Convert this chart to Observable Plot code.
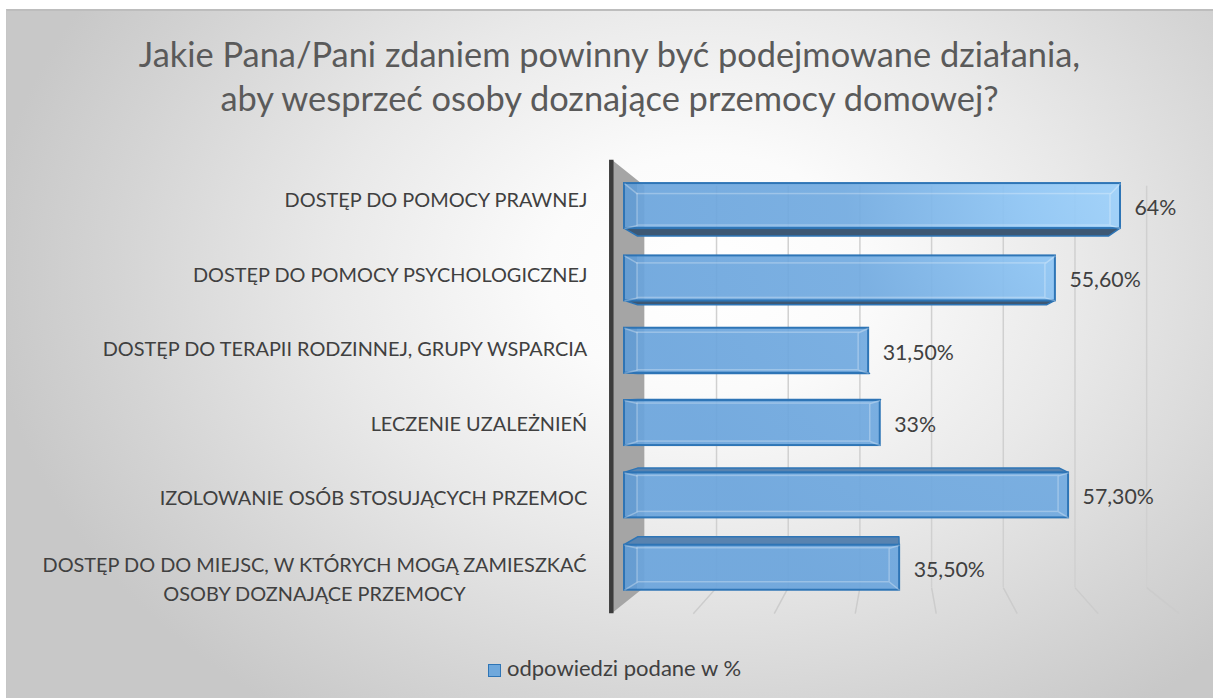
<!DOCTYPE html>
<html>
<head>
<meta charset="utf-8">
<script src="https://cdn.jsdelivr.net/npm/d3@7"></script>
<script src="https://cdn.jsdelivr.net/npm/@observablehq/plot@0.6"></script>
<style>
  html, body { margin: 0; padding: 0; background: #ffffff; width: 1213px; height: 698px; overflow: hidden; }
  #frame {
    position: absolute; left: 6px; top: 9px; width: 1210px; height: 692px;
    border-top: 2px solid #bdbdbd; border-left: 1px solid #c6c6c6;
    background: radial-gradient(ellipse 720px 540px at 700px 262px, #ffffff 0%, #fbfbfb 22%, #e9e9e9 52%, #d4d4d4 82%, #c8c8c8 100%);
  }
  #title {
    position: absolute; left: 6px; top: 32px; width: 1207px; text-align: center;
    font-family: Lato, "Open Sans", sans-serif; font-weight: 400; font-size: 34.4px; line-height: 44px; color: #5a5a5a;
  }
  #chart { position: absolute; left: 0; top: 140px; }
  #legend {
    position: absolute; left: 488px; top: 656px; white-space: nowrap;
    font-family: Lato, "Open Sans", sans-serif; font-weight: 400; font-size: 22px; line-height: 24px; color: #404040;
  }
  #legend .sw {
    display: inline-block; width: 11px; height: 11px; margin-right: 6px; vertical-align: -1px;
    background: #6fa8dc; border: 1.5px solid #2e75b6;
  }
</style>
</head>
<body>
<svg width="0" height="0" style="position:absolute">
  <defs>
    <radialGradient id="barGrad" gradientUnits="userSpaceOnUse" cx="1190" cy="20" r="560">
      <stop offset="0" stop-color="#a9d9ff"/>
      <stop offset="0.3" stop-color="#8fc6f5"/>
      <stop offset="0.62" stop-color="#71aae0"/>
      <stop offset="1" stop-color="#6aa4dc"/>
    </radialGradient>
  </defs>
</svg>
<div id="frame"></div>
<div id="title"></div>
<div id="chart"></div>
<div id="legend"><span class="sw"></span><span id="legendText"></span></div>
<script>
// ---- data ----
const titleLines = [
  "Jakie Pana/Pani zdaniem powinny być podejmowane działania,",
  "aby wesprzeć osoby doznające przemocy domowej?"
];
const categories = [
  "DOSTĘP DO POMOCY PRAWNEJ",
  "DOSTĘP DO POMOCY PSYCHOLOGICZNEJ",
  "DOSTĘP DO TERAPII RODZINNEJ, GRUPY WSPARCIA",
  "LECZENIE UZALEŻNIEŃ",
  "IZOLOWANIE OSÓB STOSUJĄCYCH PRZEMOC",
  "DOSTĘP DO DO MIEJSC, W KTÓRYCH MOGĄ ZAMIESZKAĆ\nOSOBY DOZNAJĄCE PRZEMOCY"
];
const values = [64, 55.6, 31.5, 33, 57.3, 35.5];
const valueLabels = ["64%", "55,60%", "31,50%", "33%", "57,30%", "35,50%"];
const gridTicks = [0, 10, 20, 30, 40, 50, 60, 70];
const legendLabel = "odpowiedzi podane w %";

// ---- page text ----
document.getElementById("title").innerHTML = titleLines.map(s => s.replace(/&/g, "&amp;")).join("<br>");
document.getElementById("legendText").textContent = legendLabel;

// ---- 3D-like perspective helpers (styling) ----
const fontFamily = "Lato, 'Open Sans', sans-serif";
const W = 1213, Hgt = 490;
const mL = 624, mR = 46.5, mT = 29.4, mB = 26.6;
const xMax = gridTicks[gridTicks.length - 1];
const pxPerX = (W - mL - mR) / xMax;
const pxPerRow = (Hgt - mT - mB) / categories.length;
const HALF = 22.5 / pxPerRow;            // half bar thickness in row units
const VP = {x: xMax / 2, y: (categories.length - 1) / 2};
const DEPTH = {front: 1.045, bar: 1, barBack: 0.95, back: 0.925};
const proj = (v, r, f) => [VP.x + (v - VP.x) * f, VP.y + (r - VP.y) * f];
const rowTop = -0.5, rowBot = categories.length - 0.5;

const rows = categories.map((c, i) => ({i, category: c, value: values[i], label: valueLabels[i]}));

// horizontal faces of bars (underside above eye level, top face below)
const faces = rows.flatMap(d => {
  const under = d.i < VP.y;
  const ye = under ? d.i + HALF : d.i - HALF;
  const [bx0, by] = proj(0, ye, DEPTH.barBack);
  const [bx1] = proj(d.value, ye, DEPTH.barBack);
  return [
    {i: d.i, under, y: ye, x1: 0, x2: d.value},
    {i: d.i, under, y: by, x1: bx0, x2: bx1}
  ];
});

// side wall
const [wfX, wfTop] = proj(0, rowTop, DEPTH.front);
const [, wfBot] = proj(0, rowBot, DEPTH.front);
const [wbX, wbTop] = proj(0, rowTop, DEPTH.back);
const [, wbBot] = proj(0, rowBot, DEPTH.back);
const wall = [{x: wfX, y1: wfTop, y2: wfBot}, {x: wbX, y1: wbTop, y2: wbBot}];

// bevel geometry (in data units, derived from pixel insets)
const bev = rows.map(d => {
  const tPx = 3 + Math.max(0, VP.y - d.i) * 3;
  const bPx = 3 + Math.max(0, d.i - VP.y) * 2;
  const lU = 13 / pxPerX, rU = 10 / pxPerX;
  return {
    ...d,
    ox1: 0, ox2: d.value, oy1: d.i - HALF, oy2: d.i + HALF,
    ix1: lU, ix2: d.value - rU, iy1: d.i - HALF + tPx / pxPerRow, iy2: d.i + HALF - bPx / pxPerRow
  };
});
const bevCorners = bev.flatMap(b => [
  {x1: b.ox1, y1: b.oy1, x2: b.ix1, y2: b.iy1},
  {x1: b.ox2, y1: b.oy1, x2: b.ix2, y2: b.iy1},
  {x1: b.ox1, y1: b.oy2, x2: b.ix1, y2: b.iy2},
  {x1: b.ox2, y1: b.oy2, x2: b.ix2, y2: b.iy2}
]);

// label placement
const labelSize = 19.9;
const ctx = document.createElement("canvas").getContext("2d");
ctx.font = `400 ${labelSize}px Lato`;
const labelRow = i => VP.y + (i - VP.y) * 1.03;
const singleLabels = rows.filter(d => !d.category.includes("\n"));
const multiLabels = rows.filter(d => d.category.includes("\n")).map(d => {
  const w = Math.max(...d.category.split("\n").map(s => ctx.measureText(s).width));
  return {...d, shift: w / 2};
});
const labelGap = 25;

const marks = [
  // back wall gridlines
  Plot.ruleX(gridTicks.filter(v => v > 0), {
    x: v => proj(v, 0, DEPTH.back)[0], y1: wbTop, y2: wbBot,
    stroke: "#d0d0d0", strokeWidth: 1.5
  }),
  // floor gridlines
  Plot.link(gridTicks.filter(v => v > 0), {
    x1: v => proj(v, rowBot, DEPTH.back)[0], y1: wbBot,
    x2: v => proj(v, rowBot, DEPTH.front)[0], y2: wfBot,
    stroke: "#cccccc", strokeWidth: 1.5
  }),
  // side wall
  Plot.areaY(wall, {x: "x", y1: "y1", y2: "y2", fill: "#a5a5a5"}),
  Plot.ruleX([wfX], {y1: wfTop, y2: wfBot, stroke: "#3c3c3c", strokeWidth: 4.5, dx: -1}),
  // bar horizontal faces
  Plot.areaX(faces.filter(f => f.under), {y: "y", x1: "x1", x2: "x2", z: "i", fill: "#3d5874", stroke: "#2e75b6", strokeWidth: 1.5}),
  Plot.areaX(faces.filter(f => !f.under), {y: "y", x1: "x1", x2: "x2", z: "i", fill: "#5883b0", stroke: "#2e75b6", strokeWidth: 1.5}),
  // bar front faces
  Plot.rect(rows, {
    x1: 0, x2: "value", y1: d => d.i - HALF, y2: d => d.i + HALF,
    fill: "url(#barGrad)", fillOpacity: 0.92, stroke: "#2e75b6", strokeWidth: 2
  }),
  // left bevel shade
  Plot.rect(bev, {x1: "ox1", x2: "ix1", y1: "oy1", y2: "oy2", fill: "#2e6fb0", fillOpacity: 0.12}),
  // bevel inner edges
  Plot.rect(bev, {x1: "ix1", x2: "ix2", y1: "iy1", y2: "iy2", fill: "none", stroke: "#ffffff", strokeOpacity: 0.28, strokeWidth: 1.5}),
  Plot.link(bevCorners, {x1: "x1", y1: "y1", x2: "x2", y2: "y2", stroke: "#ffffff", strokeOpacity: 0.3, strokeWidth: 1.5}),
  // value labels
  Plot.text(rows, {x: "value", y: "i", text: "label", dx: 14, dy: 2, textAnchor: "start", fontSize: 21.3, fontWeight: 400, fill: "#404040"}),
  // category labels
  Plot.text(singleLabels, {x: wfX, y: d => labelRow(d.i), text: "category", dx: -labelGap, textAnchor: "end", fontSize: labelSize, fontWeight: 400, fill: "#404040"}),
  ...multiLabels.map(d => Plot.text([d], {x: wfX, y: labelRow(d.i), text: "category", dx: -labelGap - d.shift, dy: 4, textAnchor: "middle", lineHeight: 1.45, fontSize: labelSize, fontWeight: 400, fill: "#404040"}))
];

const chart = Plot.plot({
  width: W, height: Hgt,
  marginLeft: mL, marginRight: mR, marginTop: mT, marginBottom: mB,
  x: {domain: [0, xMax], axis: null},
  y: {domain: [rowBot, rowTop], axis: null},
  style: {background: "transparent", fontFamily, overflow: "visible"},
  marks
});
document.getElementById("chart").appendChild(chart);
</script>
</body>
</html>
